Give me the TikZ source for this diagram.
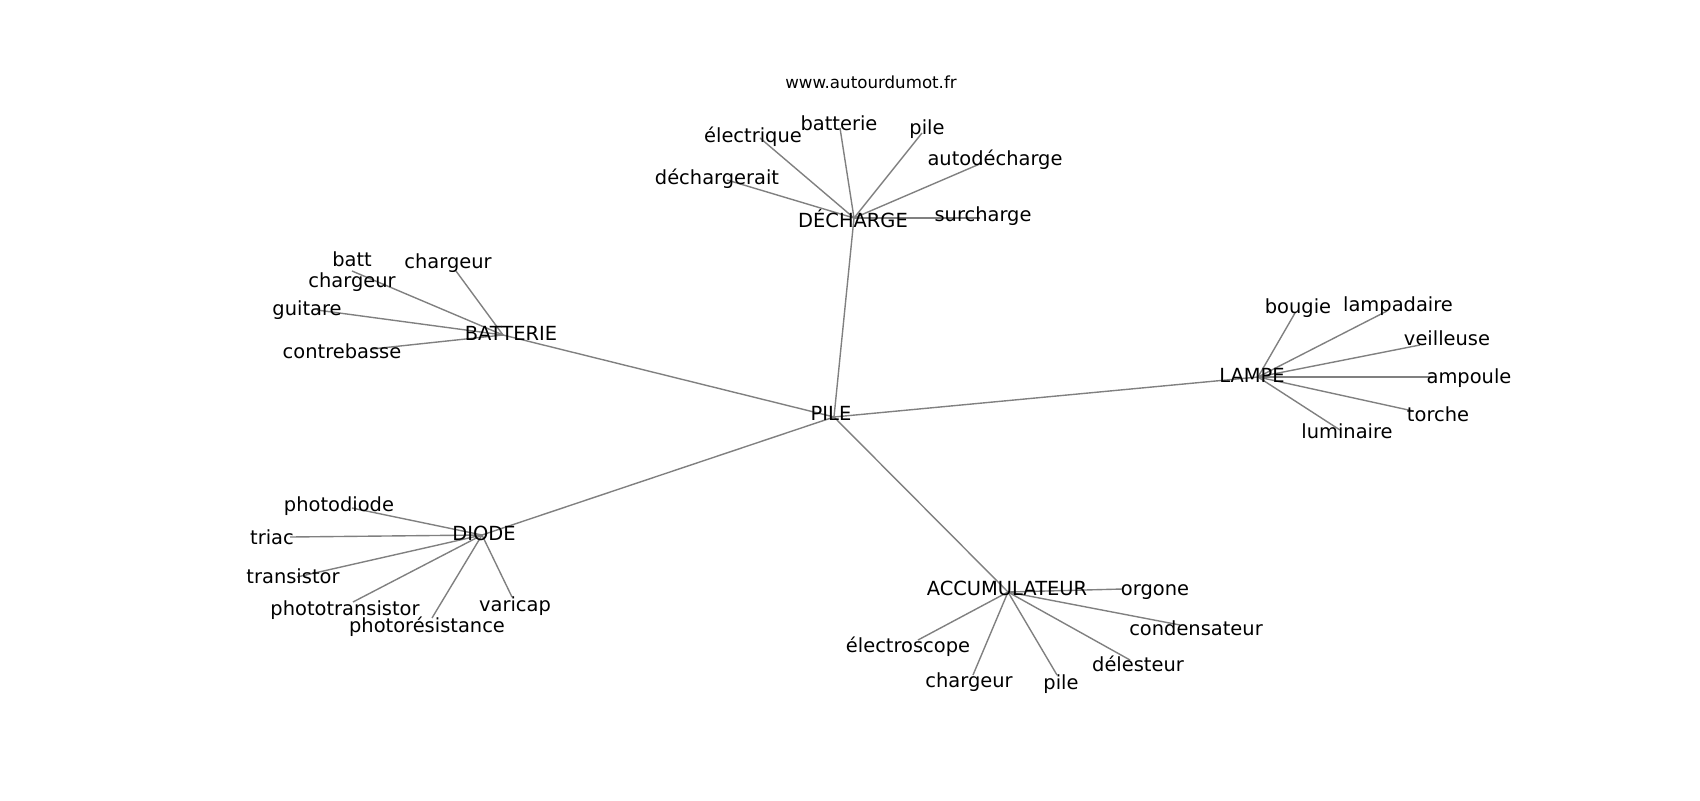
\documentclass[tikz,border=0pt]{standalone}
\usepackage{fontspec}
\setmainfont{DejaVu Sans}
\begin{document}
\begin{tikzpicture}[x=0.72pt,y=-0.72pt,
  lbl/.style={anchor=base,inner sep=0pt,outer sep=0pt,font=\fontsize{14}{16.8}\selectfont,text=black},
  url/.style={anchor=base,inner sep=0pt,outer sep=0pt,font=\fontsize{12}{14.4}\selectfont,text=black},
  edge/.style={draw=black!50,line width=1pt}]
\useasboundingbox[fill=white] (0,0) rectangle (1700,800);
% node positions
\coordinate (pile) at (834,417);
\coordinate (decharge) at (854,218);
\coordinate (batterie) at (503,335);
\coordinate (lampe) at (1258,377);
\coordinate (diode) at (482,535);
\coordinate (accu) at (1008,592);
% DECHARGE leaves
\coordinate (d1) at (760,138);
\coordinate (d2) at (840,128);
\coordinate (d3) at (922,133);
\coordinate (d4) at (982,163);
\coordinate (d5) at (727,180);
\coordinate (d6) at (980,218);
% BATTERIE leaves
\coordinate (b1) at (352,271);
\coordinate (b2) at (456,271);
\coordinate (b3) at (317,310);
\coordinate (b4) at (372,349);
% DIODE leaves
\coordinate (i1) at (352,508);
\coordinate (i2) at (290,537);
\coordinate (i3) at (297,577);
\coordinate (i4) at (353,602);
\coordinate (i5) at (432,618);
\coordinate (i6) at (512,597);
% LAMPE leaves
\coordinate (l1) at (1295,313);
\coordinate (l2) at (1387,311);
\coordinate (l3) at (1420,345);
\coordinate (l4) at (1433,377);
\coordinate (l5) at (1413,411);
\coordinate (l6) at (1340,430);
% ACCUMULATEUR leaves
\coordinate (a1) at (1123,589);
\coordinate (a2) at (918,640);
\coordinate (a3) at (973,675);
\coordinate (a4) at (1057,675);
\coordinate (a5) at (1130,660);
\coordinate (a6) at (1180,625);
% edges
\foreach \h in {decharge,batterie,lampe,diode,accu} \draw[edge] (pile) -- (\h);
\foreach \n in {d1,d2,d3,d4,d5,d6} \draw[edge] (decharge) -- (\n);
\foreach \n in {b1,b2,b3,b4} \draw[edge] (batterie) -- (\n);
\foreach \n in {i1,i2,i3,i4,i5,i6} \draw[edge] (diode) -- (\n);
\foreach \n in {l1,l2,l3,l4,l5,l6} \draw[edge] (lampe) -- (\n);
\foreach \n in {a1,a2,a3,a4,a5,a6} \draw[edge] (accu) -- (\n);
% labels
\node[url] (t-url) at (871,88) {www.autourdumot.fr};
\node[lbl] (t-pile) at (831,420) {PILE};
\node[lbl] (t-decharge) at (853,227) {DÉCHARGE};
\node[lbl] (t-batterie) at (511,340) {BATTERIE};
\node[lbl] (t-lampe) at (1252,382) {LAMPE};
\node[lbl] (t-diode) at (484,540) {DIODE};
\node[lbl] (t-accu) at (1007,595) {ACCUMULATEUR};
\node[lbl] (t-d1) at (753,142) {électrique};
\node[lbl] (t-d2) at (839,130) {batterie};
\node[lbl] (t-d3) at (927,134) {pile};
\node[lbl] (t-d4) at (995,165) {autodécharge};
\node[lbl] (t-d5) at (717,184) {déchargerait};
\node[lbl] (t-d6) at (983,221) {surcharge};
\node[lbl] (t-b1) at (352,287) {\vbox{\baselineskip=15.12pt\halign{\hfil#\hfil\cr batt\cr chargeur\cr}}};
\node[lbl] (t-b2) at (448,268) {chargeur};
\node[lbl] (t-b3) at (307,315) {guitare};
\node[lbl] (t-b4) at (342,358) {contrebasse};
\node[lbl] (t-i1) at (339,511) {photodiode};
\node[lbl] (t-i2) at (272,544) {triac};
\node[lbl] (t-i3) at (293,583) {transistor};
\node[lbl] (t-i4) at (345,615) {phototransistor};
\node[lbl] (t-i5) at (427,632) {photorésistance};
\node[lbl] (t-i6) at (515,611) {varicap};
\node[lbl] (t-l1) at (1298,313) {bougie};
\node[lbl] (t-l2) at (1398,311) {lampadaire};
\node[lbl] (t-l3) at (1447,345) {veilleuse};
\node[lbl] (t-l4) at (1469,383) {ampoule};
\node[lbl] (t-l5) at (1438,421) {torche};
\node[lbl] (t-l6) at (1347,438) {luminaire};
\node[lbl] (t-a1) at (1155,595) {orgone};
\node[lbl] (t-a2) at (908,652) {électroscope};
\node[lbl] (t-a3) at (969,687) {chargeur};
\node[lbl] (t-a4) at (1061,689) {pile};
\node[lbl] (t-a5) at (1138,671) {délesteur};
\node[lbl] (t-a6) at (1196,635) {condensateur};
\end{tikzpicture}
\end{document}
